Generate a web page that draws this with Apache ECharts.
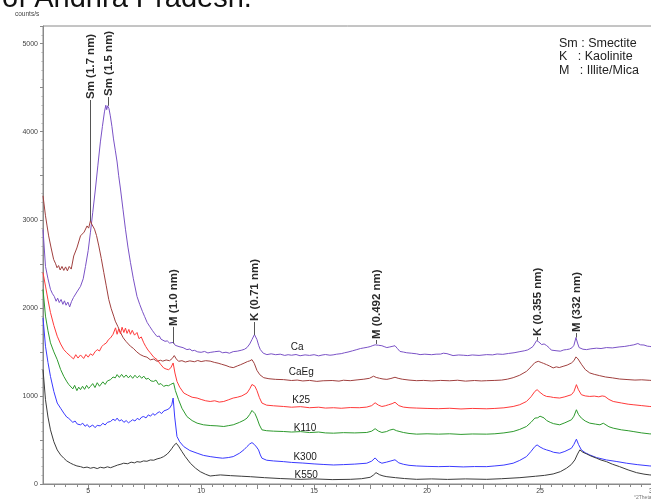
<!DOCTYPE html>
<html>
<head>
<meta charset="utf-8">
<script src="https://cdn.jsdelivr.net/npm/echarts@6/dist/echarts.min.js"></script>
<style>
html,body{margin:0;padding:0;background:#fff;}
#chart{width:651px;height:503px;}
</style>
</head>
<body>
<div id="chart"></div>
<script>
// ---------- DATA (2θ, counts/s) ----------
const seriesNames = ['Ca', 'CaEg', 'K25', 'K110', 'K300', 'K550'];

const ca = [[3.0,2890],[3.11,2470],[3.22,2330],[3.33,2210],[3.42,2160],[3.5,2130],[3.58,2075],[3.65,2110],[3.72,2060],[3.8,2095],[3.88,2040],[3.95,2080],[4.02,2030],[4.1,2065],[4.18,2010],[4.26,2070],[4.35,2118],[4.5,2180],[4.66,2244],[4.78,2330],[4.88,2470],[5.0,2650],[5.10,2859],[5.2,3080],[5.32,3349],[5.43,3620],[5.54,3884],[5.63,4060],[5.72,4225],[5.78,4300],[5.82,4250],[5.86,4294],[5.92,4262],[5.98,4180],[6.05,4060],[6.12,3918],[6.2,3790],[6.28,3656],[6.35,3500],[6.43,3349],[6.54,3120],[6.65,2893],[6.76,2690],[6.87,2517],[7.0,2330],[7.16,2130],[7.28,2040],[7.4,1960],[7.5,1900],[7.61,1834],[7.72,1790],[7.85,1740],[7.95,1705],[8.05,1674],[8.15,1680],[8.22,1645],[8.3,1650],[8.4,1620],[8.5,1625],[8.6,1600],[8.68,1598],[8.77,1608],[8.85,1575],[8.93,1555],[9.02,1560],[9.1,1540],[9.2,1548],[9.37,1526],[9.5,1532],[9.6,1512],[9.7,1518],[9.85,1500],[10.0,1495],[10.15,1505],[10.3,1488],[10.4,1494],[10.6,1502],[10.8,1508],[10.95,1490],[11.1,1496],[11.25,1485],[11.42,1503],[11.6,1508],[11.8,1520],[11.92,1530],[12.03,1549],[12.15,1590],[12.25,1640],[12.36,1697],[12.47,1640],[12.55,1570],[12.62,1526],[12.75,1485],[12.91,1469],[13.1,1478],[13.3,1468],[13.5,1474],[13.7,1460],[13.85,1468],[14.0,1462],[14.2,1470],[14.38,1456],[14.6,1466],[14.8,1460],[15.0,1468],[15.2,1455],[15.35,1464],[15.5,1470],[15.7,1462],[15.84,1466],[16.0,1474],[16.2,1480],[16.35,1490],[16.5,1498],[16.7,1512],[16.89,1526],[17.05,1538],[17.2,1545],[17.35,1552],[17.48,1560],[17.6,1572],[17.7,1580],[17.77,1592],[17.85,1575],[18.0,1570],[18.1,1560],[18.22,1549],[18.35,1556],[18.45,1562],[18.58,1570],[18.68,1540],[18.8,1505],[18.95,1498],[19.1,1490],[19.3,1485],[19.54,1478],[19.69,1469],[19.9,1474],[20.2,1468],[20.4,1474],[20.6,1475],[20.72,1485],[20.79,1502],[20.88,1480],[20.95,1468],[21.15,1458],[21.4,1465],[21.6,1462],[21.8,1458],[22.0,1465],[22.3,1460],[22.64,1469],[22.9,1466],[23.1,1476],[23.35,1472],[23.6,1482],[23.85,1490],[24.11,1503],[24.3,1512],[24.45,1522],[24.6,1545],[24.69,1562],[24.78,1600],[24.85,1629],[24.95,1612],[25.07,1583],[25.18,1590],[25.29,1572],[25.4,1548],[25.5,1520],[25.57,1503],[25.75,1512],[25.9,1508],[26.05,1522],[26.17,1526],[26.3,1532],[26.42,1548],[26.5,1575],[26.59,1663],[26.66,1600],[26.73,1549],[26.9,1530],[27.06,1526],[27.25,1535],[27.5,1542],[27.7,1538],[27.94,1549],[28.2,1545],[28.5,1556],[28.75,1562],[28.97,1572],[29.15,1580],[29.33,1595],[29.45,1580],[29.6,1578],[29.75,1565],[29.86,1562],[30,1555]];

const caEg = [[3.0,3272],[3.11,3045],[3.18,2930],[3.25,2817],[3.36,2680],[3.47,2551],[3.56,2500],[3.62,2455],[3.69,2480],[3.76,2430],[3.84,2470],[3.92,2425],[4.0,2465],[4.08,2420],[4.16,2470],[4.25,2440],[4.36,2589],[4.43,2600],[4.5,2680],[4.58,2700],[4.66,2817],[4.74,2800],[4.82,2860],[4.88,2874],[4.95,2930],[5.02,2905],[5.10,2988],[5.16,2950],[5.22,2965],[5.28,2893],[5.37,2820],[5.47,2703],[5.58,2560],[5.69,2403],[5.8,2250],[5.91,2096],[6.02,1990],[6.13,1906],[6.2,1849],[6.31,1790],[6.43,1720],[6.55,1660],[6.67,1620],[6.87,1564],[7.0,1540],[7.15,1500],[7.3,1470],[7.46,1450],[7.6,1440],[7.75,1410],[7.9,1418],[8.05,1393],[8.2,1405],[8.3,1395],[8.45,1408],[8.6,1400],[8.72,1425],[8.81,1458],[8.9,1420],[9.0,1393],[9.15,1400],[9.3,1385],[9.5,1398],[9.7,1388],[9.85,1402],[10.0,1390],[10.2,1400],[10.4,1395],[10.6,1380],[10.75,1372],[10.9,1360],[11.1,1345],[11.25,1330],[11.42,1321],[11.6,1340],[11.75,1355],[11.9,1372],[12.05,1390],[12.15,1398],[12.25,1412],[12.35,1370],[12.47,1290],[12.6,1240],[12.77,1207],[13.0,1195],[13.3,1188],[13.65,1185],[14.0,1175],[14.25,1180],[14.5,1170],[14.8,1176],[15.12,1165],[15.4,1172],[15.8,1175],[16.1,1168],[16.3,1178],[16.6,1173],[16.9,1182],[17.2,1190],[17.45,1200],[17.63,1224],[17.75,1210],[17.9,1200],[18.05,1192],[18.22,1188],[18.4,1198],[18.58,1212],[18.72,1200],[18.9,1190],[19.2,1180],[19.54,1173],[19.85,1176],[20.2,1170],[20.6,1176],[21.0,1172],[21.35,1178],[21.7,1168],[22.1,1175],[22.4,1170],[22.64,1173],[23.0,1176],[23.3,1180],[23.55,1190],[23.81,1207],[24.1,1235],[24.4,1279],[24.6,1330],[24.77,1378],[24.92,1393],[25.05,1380],[25.15,1370],[25.29,1355],[25.42,1340],[25.58,1318],[25.72,1330],[25.85,1322],[26.02,1336],[26.2,1350],[26.39,1374],[26.5,1400],[26.59,1443],[26.68,1420],[26.83,1360],[27.0,1300],[27.2,1261],[27.4,1245],[27.64,1230],[27.9,1215],[28.2,1205],[28.52,1192],[28.85,1186],[29.2,1180],[29.5,1183],[29.86,1177],[30,1175]];

const k25 = [[3.0,2400],[3.11,2247],[3.22,2090],[3.33,1947],[3.48,1800],[3.63,1678],[3.78,1590],[3.92,1526],[4.05,1490],[4.13,1470],[4.22,1450],[4.35,1420],[4.45,1468],[4.55,1430],[4.66,1465],[4.8,1425],[4.9,1470],[5.0,1440],[5.1,1478],[5.2,1460],[5.3,1500],[5.4,1526],[5.5,1510],[5.6,1560],[5.69,1583],[5.8,1600],[5.9,1640],[5.99,1659],[6.1,1700],[6.21,1773],[6.28,1700],[6.35,1760],[6.43,1705],[6.5,1780],[6.58,1720],[6.65,1770],[6.72,1710],[6.8,1755],[6.87,1700],[6.95,1745],[7.05,1690],[7.16,1720],[7.25,1650],[7.35,1670],[7.46,1603],[7.55,1560],[7.65,1520],[7.75,1489],[7.9,1440],[8.05,1412],[8.2,1360],[8.34,1318],[8.45,1305],[8.56,1298],[8.66,1320],[8.76,1374],[8.84,1260],[8.93,1165],[9.05,1100],[9.23,1033],[9.4,1010],[9.6,985],[9.82,976],[10.0,960],[10.2,945],[10.4,937],[10.6,945],[10.8,930],[11.0,937],[11.2,955],[11.42,976],[11.6,985],[11.8,1000],[12.03,1033],[12.15,1080],[12.25,1130],[12.3,1150],[12.38,1110],[12.47,1060],[12.58,980],[12.69,919],[12.9,895],[13.2,888],[13.65,880],[14.0,872],[14.4,878],[14.8,866],[15.2,872],[15.5,862],[15.86,866],[16.2,860],[16.6,868],[17.0,866],[17.33,873],[17.55,890],[17.70,922],[17.85,895],[18.0,880],[18.15,888],[18.3,900],[18.45,912],[18.58,928],[18.75,890],[18.95,873],[19.2,866],[19.54,862],[20.0,858],[20.5,855],[21.0,860],[21.5,852],[22.0,858],[22.64,854],[23.0,858],[23.4,865],[23.81,880],[24.1,900],[24.4,937],[24.6,990],[24.77,1051],[24.87,1071],[25.0,1040],[25.15,1010],[25.29,994],[25.45,990],[25.6,982],[25.87,976],[26.1,990],[26.39,1014],[26.5,1050],[26.61,1128],[26.7,1070],[26.83,1014],[27.0,1000],[27.2,994],[27.4,998],[27.6,990],[27.75,1000],[27.87,994],[28.05,960],[28.24,937],[28.6,920],[28.9,906],[29.12,900],[29.5,890],[29.86,880],[30,878]];

const k110 = [[3.0,2210],[3.11,1906],[3.22,1740],[3.33,1603],[3.48,1500],[3.63,1412],[3.78,1300],[3.92,1222],[4.06,1160],[4.14,1130],[4.22,1108],[4.32,1080],[4.4,1120],[4.5,1060],[4.58,1100],[4.66,1071],[4.75,1110],[4.84,1075],[4.93,1120],[5.02,1085],[5.1,1108],[5.2,1140],[5.3,1095],[5.4,1150],[5.5,1110],[5.54,1128],[5.65,1160],[5.75,1130],[5.85,1170],[5.99,1185],[6.1,1215],[6.2,1205],[6.28,1242],[6.38,1210],[6.48,1245],[6.58,1210],[6.68,1238],[6.78,1205],[6.87,1232],[6.97,1200],[7.07,1235],[7.17,1205],[7.27,1230],[7.37,1200],[7.46,1225],[7.56,1190],[7.66,1200],[7.78,1170],[7.9,1165],[8.0,1180],[8.12,1130],[8.22,1140],[8.34,1108],[8.45,1120],[8.55,1115],[8.65,1130],[8.71,1128],[8.78,1147],[8.86,1060],[9.0,957],[9.15,860],[9.37,766],[9.6,720],[9.82,691],[10.1,672],[10.4,664],[10.7,660],[11.0,653],[11.2,662],[11.42,672],[11.7,700],[11.9,725],[12.03,748],[12.15,790],[12.25,835],[12.3,850],[12.38,800],[12.47,748],[12.58,670],[12.69,615],[12.9,605],[13.2,600],[13.65,596],[14.0,590],[14.4,595],[14.8,584],[15.2,590],[15.5,580],[15.86,577],[16.3,583],[16.8,580],[17.33,585],[17.55,600],[17.70,628],[17.85,600],[18.0,585],[18.2,595],[18.35,612],[18.5,622],[18.65,605],[18.8,595],[18.95,585],[19.2,574],[19.54,566],[20.0,570],[20.5,566],[21.0,570],[21.5,563],[22.0,568],[22.64,566],[23.0,570],[23.4,580],[23.81,596],[24.1,620],[24.4,653],[24.6,700],[24.77,748],[24.9,752],[25.0,770],[25.07,786],[25.18,750],[25.29,721],[25.45,700],[25.6,685],[25.87,672],[26.1,695],[26.39,729],[26.5,770],[26.61,843],[26.7,790],[26.83,748],[27.0,715],[27.2,691],[27.45,680],[27.65,672],[27.8,690],[27.87,672],[28.05,650],[28.24,634],[28.6,615],[28.9,605],[29.12,596],[29.5,580],[29.86,569],[30,568]];

const k300 = [[3.0,1887],[3.11,1564],[3.22,1380],[3.33,1222],[3.48,1050],[3.63,919],[3.78,860],[3.92,805],[4.05,760],[4.14,745],[4.22,729],[4.32,700],[4.42,715],[4.52,680],[4.6,700],[4.66,672],[4.76,690],[4.86,655],[4.96,675],[5.05,645],[5.1,653],[5.2,670],[5.3,640],[5.4,665],[5.54,660],[5.65,690],[5.75,670],[5.85,700],[5.99,710],[6.1,735],[6.2,720],[6.28,748],[6.38,715],[6.48,730],[6.58,700],[6.68,720],[6.78,695],[6.87,710],[6.97,730],[7.07,715],[7.17,745],[7.27,730],[7.37,760],[7.46,766],[7.56,750],[7.66,785],[7.76,770],[7.86,800],[7.96,780],[8.05,805],[8.15,820],[8.25,800],[8.35,830],[8.49,843],[8.6,860],[8.7,900],[8.76,976],[8.83,760],[8.93,539],[9.05,480],[9.23,425],[9.5,380],[9.82,350],[10.1,325],[10.4,311],[10.7,300],[10.95,293],[11.2,300],[11.42,311],[11.7,350],[11.9,390],[12.03,425],[12.15,455],[12.25,470],[12.35,450],[12.45,420],[12.54,387],[12.62,330],[12.69,293],[12.9,270],[13.2,262],[13.65,254],[14.0,245],[14.5,238],[15.0,228],[15.4,222],[15.86,216],[16.3,220],[16.8,226],[17.33,236],[17.55,260],[17.70,296],[17.85,255],[18.0,236],[18.2,248],[18.4,262],[18.58,275],[18.75,240],[18.95,224],[19.2,212],[19.54,205],[20.0,200],[20.5,197],[21.0,200],[21.6,194],[22.1,198],[22.64,197],[23.0,205],[23.4,215],[23.81,236],[24.1,268],[24.4,311],[24.6,370],[24.77,425],[24.87,444],[25.0,420],[25.15,400],[25.29,387],[25.45,375],[25.6,360],[25.87,350],[26.1,370],[26.39,406],[26.5,450],[26.61,509],[26.7,450],[26.83,387],[27.0,355],[27.2,330],[27.5,300],[27.94,273],[28.4,255],[28.83,236],[29.3,220],[29.86,205],[30,203]];

const k550 = [[3.0,1298],[3.11,957],[3.22,760],[3.33,615],[3.48,480],[3.63,387],[3.78,330],[3.92,293],[4.05,262],[4.22,236],[4.35,220],[4.5,205],[4.66,197],[4.8,185],[4.95,192],[5.1,179],[5.25,188],[5.4,175],[5.54,190],[5.7,182],[5.85,195],[5.99,185],[6.15,200],[6.3,215],[6.45,225],[6.57,236],[6.75,230],[6.9,248],[7.05,240],[7.16,254],[7.3,248],[7.45,262],[7.6,258],[7.75,273],[7.9,270],[8.05,285],[8.2,295],[8.34,311],[8.5,340],[8.62,375],[8.71,406],[8.8,440],[8.90,463],[9.0,430],[9.15,368],[9.3,310],[9.52,236],[9.75,180],[9.96,140],[10.2,110],[10.4,91],[10.65,98],[10.85,103],[11.3,95],[11.8,88],[12.18,83],[12.8,72],[13.5,62],[14.38,53],[15.0,58],[15.8,50],[16.6,53],[17.1,60],[17.48,76],[17.62,100],[17.74,129],[17.9,105],[18.05,92],[18.22,83],[18.6,72],[19.0,62],[19.54,53],[20.2,58],[20.9,52],[21.7,58],[22.64,53],[23.3,60],[24.11,72],[24.8,88],[25.2,98],[25.58,114],[25.9,140],[26.17,179],[26.38,220],[26.54,273],[26.66,340],[26.76,387],[26.9,360],[27.06,342],[27.25,318],[27.5,293],[27.7,272],[27.94,254],[28.2,225],[28.52,197],[28.9,160],[29.27,129],[29.6,112],[29.86,103],[30,100]];

const xTickLabels = [5, 10, 15, 20, 25, 30];
const yTickLabels = [0, 1000, 2000, 3000, 4000, 5000];

// peak annotations: text, 2θ, value where the text ends, value at the peak tip
const peakNames = ['Sm (1.7 nm)', 'Sm (1.5 nm)', 'M (1.0 nm)', 'K (0.71 nm)', 'M (0.492 nm)', 'K (0.355 nm)', 'M (332 nm)'];
const peakX     = [5.08, 5.86, 8.77, 12.36, 17.74, 24.85, 26.59];
const peakTextEnd = [4360, 4394, 1783, 1839, 1635, 1669, 1714];
const peakTip   = [2986, 4294, 1595, 1692, 1590, 1629, 1663];

const legendLines = ['Sm : Smectite', 'K   : Kaolinite', 'M   : Illite/Mica'];

// ---------- LAYOUT / STYLE ----------
const colors = ['#7a52c6', '#a0403f', '#ff3a3a', '#2e9a2e', '#3a3aff', '#3c3c3c'];
const seriesData = [ca, caEg, k25, k110, k300, k550];
const nameAnchor = [[14.25,1555],[14.43,1264],[14.43,951],[14.60,638],[14.60,307],[14.65,97]];

const FONT = '"Liberation Sans", Arial, sans-serif';
const el = document.getElementById('chart');
const chart = echarts.init(el, null, {renderer: 'canvas'});

const minorX = [];
for (let v = 3.5; v <= 30.001; v += 0.5) minorX.push(+v.toFixed(1));
const majorX = [];
for (let v = 5; v <= 30.001; v += 2.5) majorX.push(v);

const axisGray = '#8a8a8a';

const option = {
  animation: false,
  backgroundColor: '#fff',
  textStyle: {fontFamily: FONT},
  grid: {left: 43, right: -2, top: 26, bottom: 19, show: true, borderColor: axisGray, borderWidth: 1, containLabel: false, outerBoundsMode: 'none'},
  xAxis: [{
    type: 'value', min: 3, max: 30, position: 'bottom',
    axisLine: {show: true, lineStyle: {color: axisGray, width: 1}},
    axisTick: {show: true, customValues: minorX, length: 3, lineStyle: {color: axisGray}},
    axisLabel: {show: true, customValues: xTickLabels, formatter: v => String(v), fontSize: 7, color: '#444', margin: 4, fontFamily: FONT},
    splitLine: {show: false}
  }, {
    type: 'value', min: 3, max: 30, position: 'bottom', gridIndex: 0,
    axisLine: {show: false},
    axisTick: {show: true, customValues: majorX, length: 5, lineStyle: {color: axisGray}},
    axisLabel: {show: false},
    splitLine: {show: false}
  }],
  yAxis: {
    type: 'value', min: 0, max: 5200, interval: 500,
    axisLine: {show: true, lineStyle: {color: axisGray, width: 1}},
    axisTick: {show: true, length: 3, lineStyle: {color: axisGray}},
    minorTick: {show: true, splitNumber: 5, length: 1.5, lineStyle: {color: '#aaa'}},
    axisLabel: {show: true, customValues: yTickLabels, formatter: v => String(v), fontSize: 7, color: '#444', margin: 5, fontFamily: FONT},
    splitLine: {show: false}
  },
  series: seriesNames.map((n, i) => ({
    name: n, type: 'line', data: seriesData[i], xAxisIndex: 0,
    showSymbol: false, symbol: 'none', smooth: false,
    lineStyle: {color: colors[i], width: 1},
    itemStyle: {color: colors[i]},
    z: 3 + i,
    markPoint: {
      symbol: 'circle', symbolSize: 0, silent: true,
      label: {show: true, position: 'inside', formatter: n, color: '#1a1a1a', fontSize: 10, fontFamily: FONT},
      data: [{coord: nameAnchor[i]}]
    }
  }))
};
chart.setOption(option);

function drawGraphics() {
  const g = [];
  // cropped caption line from the source page
  g.push({type: 'text', left: 2, top: -16, z: 100, style: {text: 'of Andhra Pradesh.', font: '29px ' + FONT, fill: '#111'}});
  g.push({type: 'text', left: 15, top: 11, style: {text: 'counts/s', font: '6.5px ' + FONT, fill: '#444'}});
  g.push({type: 'text', left: 634, top: 495, style: {text: '°2Theta', font: '5px ' + FONT, fill: '#777'}});
  legendLines.forEach((t, i) => {
    g.push({type: 'text', left: 559, top: 37 + i * 13.5, style: {text: t, font: '12.5px ' + FONT, fill: '#222'}});
  });
  peakNames.forEach((t, i) => {
    const pEnd = chart.convertToPixel({xAxisIndex: 0, yAxisIndex: 0}, [peakX[i], peakTextEnd[i]]);
    const pTip = chart.convertToPixel({xAxisIndex: 0, yAxisIndex: 0}, [peakX[i], peakTip[i]]);
    const x = Math.round(pEnd[0]) + 0.5;
    if (pTip[1] - pEnd[1] > 1) {
      g.push({type: 'line', z: 50, shape: {x1: x, y1: pEnd[1], x2: x, y2: pTip[1]}, style: {stroke: '#555', lineWidth: 1}});
    }
    g.push({type: 'text', z: 50, x: x + 0.5, y: pEnd[1] - 1, rotation: Math.PI / 2,
      style: {text: t, font: 'bold 11.5px ' + FONT, fill: '#2a2a2a', align: 'left', verticalAlign: 'middle'}});
  });
  chart.setOption({graphic: {elements: g}});
}
drawGraphics();
</script>
</body>
</html>
